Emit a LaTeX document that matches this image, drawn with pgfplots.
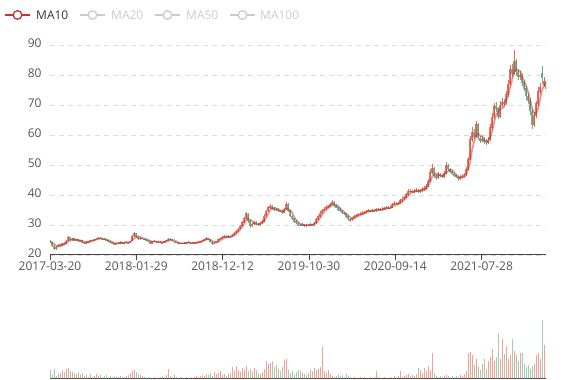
\documentclass[border=0pt]{standalone}
\usepackage{pgfplots}
\pgfplotsset{compat=1.18}
\usepackage{pgfplotstable}
\usepackage{fontspec}
\setmainfont{Open Sans}
\definecolor{upc}{HTML}{E0533F}
\definecolor{downc}{HTML}{5A9E78}
\definecolor{mac}{HTML}{C23531}
\definecolor{gridc}{HTML}{DCDCDC}
\definecolor{axisc}{HTML}{444444}
\definecolor{labc}{HTML}{555555}
\definecolor{offc}{HTML}{CCCCCC}
\definecolor{legc}{HTML}{333333}
\newcommand\fs{\fontsize{12bp}{14bp}\selectfont}

\pgfplotstableread{
x o c h l v m
0 24.8 24.4 25.0 24.0 9 24.6
2 24.3 23.2 24.4 22.8 4 24.2
4 23.0 22.1 23.2 21.6 10 23.6
6 22.0 22.6 22.9 21.8 3 23.1
8 22.7 23.4 23.7 22.5 5 22.8
10 23.5 23.1 23.8 22.9 6 22.8
12 23.0 23.8 24.1 22.9 9 23.2
14 23.9 23.6 24.2 23.3 7 23.5
16 23.6 24.6 24.9 23.5 10 23.8
18 24.7 25.9 26.3 24.5 11 24.5
20 25.8 25.1 26.0 24.8 8 24.8
22 25.0 25.4 25.7 24.8 7 25.2
24 25.5 24.9 25.6 24.6 6 25.3
26 24.9 25.1 25.4 24.7 5 25.1
28 25.2 24.7 25.3 24.4 7 25.0
30 24.7 24.8 25.1 24.5 4 24.9
32 24.8 24.2 24.9 24.0 6 24.7
34 24.2 23.9 24.4 23.6 3 24.4
36 23.9 24.3 24.5 23.8 4 24.3
38 24.3 24.5 24.7 24.1 2 24.2
40 24.5 24.9 25.1 24.3 5 24.4
42 24.9 24.8 25.1 24.6 2 24.6
44 24.8 25.2 25.4 24.6 3 24.9
46 25.2 25.4 25.7 25.0 5 25.1
48 25.4 25.7 26.0 25.2 3 25.3
50 25.7 25.5 25.9 25.3 4 25.5
52 25.5 25.3 25.7 25.1 2 25.5
54 25.3 25.2 25.5 25.0 3 25.4
56 25.2 24.9 25.3 24.7 4 25.2
58 24.9 24.5 25.0 24.3 2 25.0
60 24.5 24.3 24.7 24.1 3 24.7
62 24.3 23.9 24.4 23.7 2 24.4
64 23.9 23.7 24.1 23.5 3 24.1
66 23.7 23.9 24.1 23.5 2 23.9
68 23.9 24.0 24.2 23.7 2 23.9
70 24.0 24.3 24.5 23.8 3 24.0
72 24.3 24.0 24.4 23.8 2 24.0
74 24.0 24.1 24.3 23.8 2 24.1
76 24.1 24.3 24.5 23.9 3 24.2
78 24.3 24.0 24.4 23.8 4 24.1
80 24.0 24.6 24.8 23.9 6 24.3
82 24.6 26.2 26.6 24.5 8 24.8
84 26.3 27.2 27.8 26.1 9 25.5
86 27.1 26.0 27.3 25.6 7 26.0
88 26.0 25.3 26.2 25.0 5 26.2
90 25.3 25.7 26.0 25.1 4 26.1
92 25.7 25.4 25.9 25.2 3 25.6
94 25.4 25.2 25.6 25.0 2 25.4
96 25.2 24.9 25.4 24.7 1 25.3
98 24.9 24.7 25.1 24.5 2 25.1
100 24.7 23.9 24.8 23.5 1 24.7
102 23.9 24.5 24.7 23.7 1 24.5
104 24.5 24.7 24.9 24.3 2 24.5
106 24.7 24.3 24.8 24.1 1 24.4
108 24.3 24.4 24.6 24.2 1 24.5
110 24.4 24.1 24.5 23.9 2 24.4
112 24.1 24.2 24.4 24.0 3 24.3
114 24.2 24.5 24.7 24.1 2 24.3
116 24.5 24.8 25.0 24.4 4 24.4
118 24.8 25.3 25.6 24.7 10 24.7
120 25.3 25.1 25.5 24.9 3 24.9
122 25.1 24.7 25.2 24.5 2 25.0
124 24.7 24.3 24.8 24.1 4 24.9
126 24.3 24.1 24.4 23.9 2 24.6
128 24.1 23.8 24.2 23.6 1 24.2
130 23.8 23.9 24.1 23.6 2 24.0
132 23.9 23.8 24.0 23.6 1 23.9
134 23.8 24.0 24.2 23.6 1 23.9
136 24.0 24.1 24.3 23.9 2 23.9
138 24.1 24.3 24.5 24.0 1 24.1
140 24.3 23.9 24.4 23.7 2 24.1
142 23.9 24.0 24.2 23.8 1 24.1
144 24.0 24.1 24.3 23.9 2 24.1
146 24.1 24.2 24.4 24.0 3 24.1
148 24.2 24.3 24.5 24.1 2 24.2
150 24.3 24.6 24.8 24.2 3 24.3
152 24.6 24.9 25.1 24.5 4 24.5
154 24.9 25.2 25.4 24.8 3 24.8
156 25.2 25.6 25.9 25.1 5 25.1
158 25.6 25.3 25.8 25.1 4 25.3
160 25.3 24.4 25.4 24.2 6 25.1
162 24.4 23.7 24.5 23.4 3 24.7
164 23.7 24.0 24.2 23.5 7 24.4
166 24.0 24.5 24.7 23.9 5 24.2
168 24.5 25.1 25.3 24.4 6 24.3
170 25.1 25.5 25.8 25.0 8 24.8
172 25.5 26.0 26.2 25.4 4 25.3
174 26.0 26.3 26.6 25.8 5 25.7
176 26.3 25.9 26.5 25.6 3 25.9
178 25.9 26.2 26.5 25.7 5 26.1
180 26.2 26.0 26.4 25.7 6 26.1
182 26.0 26.6 26.9 25.9 12 26.2
184 26.6 27.3 27.6 26.4 8 26.5
186 27.3 28.0 28.4 27.1 13 27.0
188 28.0 28.7 29.1 27.8 9 27.7
190 28.7 29.6 30.1 28.5 7 28.4
192 29.6 30.8 31.3 29.4 11 29.3
194 30.8 32.2 32.8 30.6 9 30.3
196 32.2 33.8 34.4 32.0 13 31.6
198 33.6 31.5 33.9 30.8 8 32.1
200 31.5 29.6 31.7 29.0 10 31.8
202 29.6 30.3 30.7 29.3 7 31.3
204 30.3 30.9 31.3 30.0 11 30.6
206 30.9 30.4 31.2 30.1 9 30.3
208 30.4 30.0 30.7 29.7 6 30.4
210 30.0 30.6 30.9 29.8 5 30.5
212 30.6 31.2 31.6 30.4 7 30.6
214 31.2 33.0 33.5 31.0 10 31.2
216 33.0 34.6 35.1 32.8 18 32.4
218 34.6 35.8 36.4 34.3 15 33.7
220 35.8 36.3 36.9 35.4 16 34.9
222 36.3 35.5 36.6 35.0 18 35.6
224 35.5 35.0 35.9 34.6 12 35.7
226 35.0 35.4 35.8 34.7 14 35.6
228 35.4 34.8 35.7 34.4 10 35.2
230 34.8 34.6 35.1 34.2 8 34.9
232 34.6 34.2 34.9 33.8 12 34.7
234 34.2 35.3 35.8 34.0 19 34.7
236 35.3 36.9 37.5 35.1 20 35.3
238 36.9 34.8 37.2 34.3 9 35.3
240 34.8 33.0 35.0 32.5 6 35.0
242 33.0 32.1 33.4 31.7 8 34.2
244 32.1 31.2 32.4 30.8 4 32.8
246 31.2 30.6 31.5 30.2 7 31.7
248 30.6 30.0 30.9 29.6 9 31.0
250 30.0 29.9 30.3 29.5 8 30.4
252 29.9 30.2 30.5 29.6 6 30.2
254 30.2 29.7 30.4 29.3 5 30.0
256 29.7 30.0 30.3 29.4 4 30.0
258 30.0 29.8 30.2 29.5 6 29.9
260 29.8 30.2 30.5 29.6 9 29.9
262 30.2 30.0 30.4 29.7 8 30.0
264 30.0 30.6 30.9 29.8 11 30.2
266 30.6 31.8 32.3 30.4 9 30.7
268 31.8 32.9 33.4 31.6 10 31.3
270 32.9 34.0 34.5 32.7 12 32.3
272 34.0 34.9 35.4 33.8 33 33.4
274 34.9 35.4 36.0 34.6 8 34.3
276 35.4 36.0 36.6 35.1 6 35.1
278 36.0 36.2 36.8 35.7 9 35.6
280 36.2 36.8 37.4 35.9 5 36.1
282 36.8 37.6 38.3 36.5 3 36.7
284 37.6 36.5 37.9 36.1 2 36.8
286 36.5 35.9 36.9 35.5 3 36.7
288 35.9 35.2 36.2 34.8 5 36.3
290 35.2 34.6 35.5 34.2 3 35.6
292 34.6 34.0 34.9 33.6 4 34.9
294 34.0 33.8 34.3 33.4 2 34.4
296 33.8 32.9 34.0 32.4 5 33.8
298 32.9 32.0 33.2 31.2 3 33.2
300 32.0 31.6 32.4 31.0 2 32.6
302 31.6 32.3 32.7 31.4 1 32.2
304 32.3 33.0 33.4 32.0 2 32.2
306 33.0 33.2 33.6 32.7 1 32.5
308 33.2 33.5 33.9 32.9 1 33.0
310 33.5 33.6 34.3 33.2 2 33.3
312 33.6 34.0 34.5 33.3 1 33.6
314 34.0 34.2 34.7 33.7 2 33.8
316 34.2 34.5 34.9 33.9 1 34.1
318 34.5 34.8 35.2 34.2 1 34.4
320 34.8 34.6 35.1 34.2 2 34.5
322 34.6 34.9 35.3 34.3 1 34.7
324 34.9 34.7 35.2 34.3 2 34.8
326 34.7 35.1 35.6 34.4 8 34.8
328 35.1 35.3 35.8 34.8 2 35.0
330 35.3 35.0 35.6 34.6 1 35.0
332 35.0 35.4 35.9 34.7 1 35.2
334 35.4 35.5 36.0 35.1 2 35.3
336 35.5 35.8 36.3 35.2 1 35.4
338 35.8 35.6 36.2 35.3 1 35.6
340 35.6 35.7 36.4 35.3 2 35.7
342 35.7 36.8 37.3 35.5 1 36.0
344 36.8 37.4 38.0 36.5 3 36.4
346 37.4 37.0 37.8 36.6 2 36.7
348 37.0 37.2 37.7 36.7 3 37.1
350 37.2 38.1 38.6 36.9 8 37.4
352 38.1 38.6 39.2 37.8 2 37.7
354 38.6 39.2 39.8 38.3 3 38.3
356 39.2 40.1 40.7 38.9 4 39.0
358 40.1 41.2 41.9 39.8 5 39.8
360 41.2 41.4 42.0 40.8 3 40.5
362 41.4 41.0 41.8 40.5 4 41.0
364 41.0 41.3 41.9 40.6 3 41.2
366 41.3 41.6 42.2 40.9 5 41.3
368 41.6 41.2 42.0 40.7 11 41.3
370 41.2 41.5 42.1 40.8 9 41.4
372 41.5 41.8 42.5 41.1 6 41.5
374 41.8 42.2 42.9 41.4 11 41.7
376 42.2 42.9 43.6 41.8 8 42.1
378 42.9 44.5 45.3 42.6 13 42.9
380 44.5 47.5 48.5 44.2 9 44.3
382 47.5 49.0 50.3 47.0 26 46.0
384 48.8 46.5 49.4 45.8 6 46.9
386 46.5 45.8 47.0 45.0 3 47.2
388 45.8 46.8 47.5 45.4 2 47.0
390 46.8 46.5 47.3 45.9 3 46.4
392 46.5 46.0 47.0 45.5 2 46.3
394 46.0 47.2 47.9 45.7 3 46.6
396 47.2 50.0 51.0 46.9 4 47.4
398 49.8 48.6 50.4 48.0 3 47.9
400 48.6 47.8 49.1 47.2 2 48.4
402 47.8 47.0 48.3 46.5 3 48.3
404 47.0 46.6 47.5 46.0 2 47.5
406 46.6 46.0 47.0 45.5 3 46.8
408 46.0 45.3 46.4 44.7 2 46.2
410 45.3 45.9 46.5 45.0 4 45.9
412 45.9 46.3 46.9 45.5 3 45.8
414 46.3 46.6 47.2 45.9 5 45.9
416 46.6 48.5 49.2 46.3 8 46.7
418 48.5 51.8 52.8 48.2 26 48.2
420 51.8 58.5 59.5 51.5 27 50.8
422 58.5 61.0 62.5 57.8 24 54.9
424 61.0 59.5 62.0 58.5 14 57.7
426 59.5 63.5 64.8 59.0 20 60.0
428 63.5 59.0 64.0 58.2 12 60.5
430 59.0 58.2 59.8 57.3 9 59.8
432 58.2 58.6 59.5 57.6 15 59.6
434 58.6 57.8 59.2 56.9 20 58.5
436 57.8 57.5 58.6 56.6 10 58.0
438 57.5 58.4 59.3 56.9 18 58.1
440 58.4 62.5 63.5 58.0 22 59.0
442 62.5 66.0 67.3 61.8 30 61.1
444 66.0 69.5 70.8 65.4 18 64.1
446 69.5 68.8 71.0 67.6 22 66.7
448 68.8 66.0 69.5 65.2 46 67.6
450 66.0 70.0 71.2 65.5 20 68.6
452 70.0 71.0 72.3 69.2 40 68.9
454 71.0 70.6 72.0 69.6 25 69.4
456 70.6 73.5 74.6 70.0 33 71.3
458 73.5 77.0 78.5 72.8 20 73.0
460 77.0 82.0 83.5 76.5 24 75.8
462 82.0 80.5 83.8 79.5 40 78.3
464 80.5 84.5 88.2 80.0 28 81.0
466 84.5 81.0 85.5 79.8 24 82.0
468 81.0 79.5 82.0 78.4 18 81.4
470 79.5 80.0 81.2 78.2 26 81.3
472 80.0 77.5 80.6 76.5 26 79.5
474 77.5 75.5 78.3 74.6 15 78.1
476 75.5 73.0 76.2 71.8 12 76.5
478 73.0 71.5 74.0 70.3 14 74.4
480 71.5 68.0 72.5 66.8 10 72.0
482 68.0 63.5 68.8 62.0 13 69.0
484 63.5 66.5 67.5 62.8 15 67.4
486 66.5 70.5 71.5 65.8 24 67.1
488 70.5 74.5 76.0 69.8 26 68.8
490 74.5 76.0 77.5 73.6 20 71.9
492 80.5 79.0 83.0 77.0 59 75.0
494 76.8 78.0 79.5 76.0 34 76.5
496 78.0 75.5 78.8 74.6 13 77.3
}\kdata

\begin{document}
\begin{tikzpicture}
\useasboundingbox (0,0) rectangle (577bp,380bp);
\begin{axis}[
  at={(50bp,125bp)}, anchor=south west,
  scale only axis, width=496bp, height=210bp,
  xmin=0, xmax=496, ymin=20, ymax=90,
  axis x line=bottom, axis y line=left,
  x axis line style={-, draw=axisc, line width=1bp},
  y axis line style={draw=none},
  xtick={0,86.3,172.6,259,345.3,431.6},
  xticklabels={2017-03-20,2018-01-29,2018-12-12,2019-10-30,2020-09-14,2021-07-28},
  ytick={20,30,40,50,60,70,80,90},
  /pgf/number format/assume math mode=true,
  tick align=outside,
  major tick length=5bp,
  xtick style={draw=axisc, line width=1bp},
  ytick style={draw=none},
  ymajorgrids,
  major grid style={draw=gridc, line width=0.8bp, dash pattern=on 4.5bp off 4.5bp},
  ticklabel style={font=\fs, text=labc},
  xticklabel style={yshift=2bp},
  yticklabel style={yshift=1.5bp},
]
% wicks
\addplot[draw=none, mark=none, forget plot,
  restrict expr to domain={\thisrow{c}-\thisrow{o}}{0:1000},
  error bars/.cd, y dir=plus, y explicit, error mark=none,
  error bar style={draw=upc, line width=0.5bp, opacity=0.85}]
  table[x=x, y=l, y error expr=\thisrow{h}-\thisrow{l}] {\kdata};
\addplot[draw=none, mark=none, forget plot,
  restrict expr to domain={\thisrow{c}-\thisrow{o}}{-1000:-0.001},
  error bars/.cd, y dir=plus, y explicit, error mark=none,
  error bar style={draw=downc, line width=0.5bp, opacity=0.85}]
  table[x=x, y=l, y error expr=\thisrow{h}-\thisrow{l}] {\kdata};
% bodies
\addplot[draw=none, mark=none, forget plot,
  restrict expr to domain={\thisrow{c}-\thisrow{o}}{0:1000},
  error bars/.cd, y dir=both, y explicit, error mark=none,
  error bar style={draw=upc, line width=1.2bp, opacity=0.8}]
  table[x=x, y expr=(\thisrow{o}+\thisrow{c})/2, y error expr=(\thisrow{c}-\thisrow{o})/2+0.08] {\kdata};
\addplot[draw=none, mark=none, forget plot,
  restrict expr to domain={\thisrow{c}-\thisrow{o}}{-1000:-0.001},
  error bars/.cd, y dir=both, y explicit, error mark=none,
  error bar style={draw=downc, line width=1.2bp, opacity=0.8}]
  table[x=x, y expr=(\thisrow{o}+\thisrow{c})/2, y error expr=(\thisrow{o}-\thisrow{c})/2+0.08] {\kdata};
% MA10
\addplot[mac, line width=1.8bp, opacity=0.5, mark=none] table[x=x, y=m] {\kdata};
\end{axis}

\begin{axis}[
  at={(50bp,1.5bp)}, anchor=south west,
  scale only axis, width=496bp, height=78.5bp,
  xmin=0, xmax=496, ymin=0, ymax=78.5,
  axis x line=bottom, axis y line=none,
  x axis line style={-, draw=axisc, line width=1bp},
  xtick=\empty, ytick=\empty,
]
\addplot[ycomb, mark=none, draw=upc, opacity=0.55, line width=1.0bp,
  restrict expr to domain={\thisrow{c}-\thisrow{o}}{0:1000}]
  table[x=x, y=v] {\kdata};
\addplot[ycomb, mark=none, draw=downc, opacity=0.55, line width=1.0bp,
  restrict expr to domain={\thisrow{c}-\thisrow{o}}{-1000:-0.001}]
  table[x=x, y=v] {\kdata};
\end{axis}

% legend
\draw[mac, line width=1.5bp] (5bp,365bp) -- (30bp,365bp);
\draw[mac, line width=1.3bp, fill=white] (17.5bp,365bp) circle (4.3bp);
\node[anchor=west, inner sep=0pt, text=legc, font=\fs] at (36bp,365bp) {MA10};
\draw[offc, line width=1.5bp] (80bp,365bp) -- (105bp,365bp);
\draw[offc, line width=1.3bp, fill=white] (92.5bp,365bp) circle (4.3bp);
\node[anchor=west, inner sep=0pt, text=offc, font=\fs] at (111bp,365bp) {MA20};
\draw[offc, line width=1.5bp] (155bp,365bp) -- (180bp,365bp);
\draw[offc, line width=1.3bp, fill=white] (167.5bp,365bp) circle (4.3bp);
\node[anchor=west, inner sep=0pt, text=offc, font=\fs] at (186bp,365bp) {MA50};
\draw[offc, line width=1.5bp] (230bp,365bp) -- (255bp,365bp);
\draw[offc, line width=1.3bp, fill=white] (242.5bp,365bp) circle (4.3bp);
\node[anchor=west, inner sep=0pt, text=offc, font=\fs] at (260bp,365bp) {MA100};
\end{tikzpicture}
\end{document}
